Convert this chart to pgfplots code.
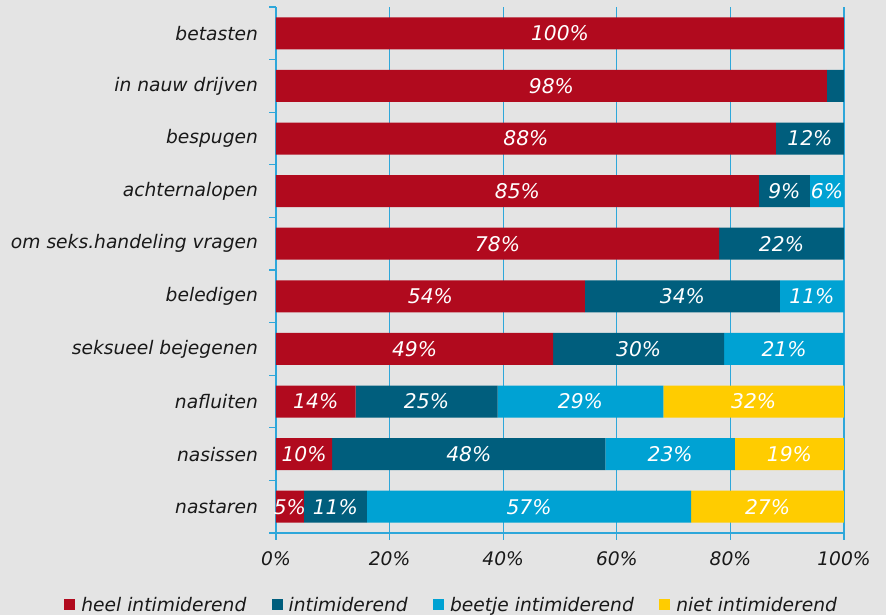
\documentclass[border=0pt]{standalone}
\usepackage{pgfplots}
\pgfplotsset{compat=1.18}
\usepackage{pgfplotstable}
\usepackage{fontspec}
\setmainfont{DejaVu Sans}
\usetikzlibrary{backgrounds}
\definecolor{cRed}{HTML}{B10A1E}
\definecolor{cDark}{HTML}{005E7D}
\definecolor{cLight}{HTML}{00A2D3}
\definecolor{cYellow}{HTML}{FFCC00}
\definecolor{cGrid}{HTML}{2EA7DA}
\definecolor{cBg}{HTML}{E4E4E4}
\pgfplotstableread{
y red dark light yellow lr ld ll ly
0 100 0 0 0 100\% {} {} {}
1 97 3 0 0 98\% {} {} {}
2 88 12 0 0 88\% 12\% {} {}
3 85 9 6 0 85\% 9\% 6\% {}
4 78 22 0 0 78\% 22\% {} {}
5 54.4 34.3 11.3 0 54\% 34\% 11\% {}
6 48.8 30.1 21.1 0 49\% 30\% 21\% {}
7 14 25 29.2 31.8 14\% 25\% 29\% 32\%
8 9.9 48.1 22.8 19.2 10\% 48\% 23\% 19\%
9 4.9 11.1 57.1 26.9 5\% 11\% 57\% 27\%
}\data
\newcommand{\lblfont}{\fontsize{14}{16.5}\selectfont\itshape}
\newcommand{\barfont}{\fontsize{15.2}{18}\selectfont\itshape}
\begin{document}
\begin{tikzpicture}
\begin{axis}[
  at={(0,0)}, anchor=south west,
  scale only axis, width=426pt, height=394.5pt,
  xbar stacked, bar width=24pt,
  xmin=0, xmax=100, ymin=-0.5, ymax=9.5, y dir=reverse,
  ytick={0,...,9},
  yticklabels={betasten,in nauw drijven,bespugen,achternalopen,om seks.handeling vragen,beledigen,seksueel bejegenen,nafluiten,nasissen,nastaren},
  minor ytick={-0.5,0.5,...,9.5},
  xtick={0,20,...,100},
  xticklabel={\pgfmathprintnumber{\tick}\%},
  /pgf/number format/assume math mode=true,
  ticklabel style={font=\lblfont, text=black!90},
  yticklabel style={xshift=-5pt},
  xticklabel style={yshift=-5.5pt},
  axis lines*=left,
  axis line style={draw=cGrid, line width=0.9pt, -},
  xmajorgrids, major grid style={draw=cGrid, line width=0.9pt},
  tick style={draw=cGrid, line width=0.9pt},
  major y tick style={draw=none},
  tick align=outside,
  major tick length=5pt, minor tick length=5pt,
  nodes near coords style={anchor=center, text=white, font=\barfont, inner sep=0pt},
  legend style={at={(0.31,-0.137)}, anchor=center, draw=none, fill=none,
    legend columns=4, font=\lblfont, text=black!90,
    /tikz/every odd column/.append style={column sep=2.5pt},
    /tikz/every even column/.append style={column sep=17pt}},
  legend image code/.code={\fill[#1,draw=none] (0pt,-4pt) rectangle (8.25pt,4.25pt);},
]
\addplot[fill=cRed, draw=none, nodes near coords, point meta=explicit symbolic]
  table[x=red, y=y, meta=lr] {\data};
\addplot[fill=cDark, draw=none, nodes near coords, point meta=explicit symbolic]
  table[x=dark, y=y, meta=ld] {\data};
\addplot[fill=cLight, draw=none, nodes near coords, point meta=explicit symbolic]
  table[x=light, y=y, meta=ll] {\data};
\addplot[fill=cYellow, draw=none, nodes near coords, point meta=explicit symbolic]
  table[x=yellow, y=y, meta=ly] {\data};
\legend{heel intimiderend, intimiderend, beetje intimiderend, niet intimiderend}
\end{axis}
\begin{pgfonlayer}{background}
\fill[cBg] (-207pt,-61.5pt) rectangle (457.5pt,399.75pt);
\end{pgfonlayer}
\pgfresetboundingbox
\useasboundingbox (-207pt,-61.5pt) rectangle (457.5pt,399.75pt);
\end{tikzpicture}
\end{document}
